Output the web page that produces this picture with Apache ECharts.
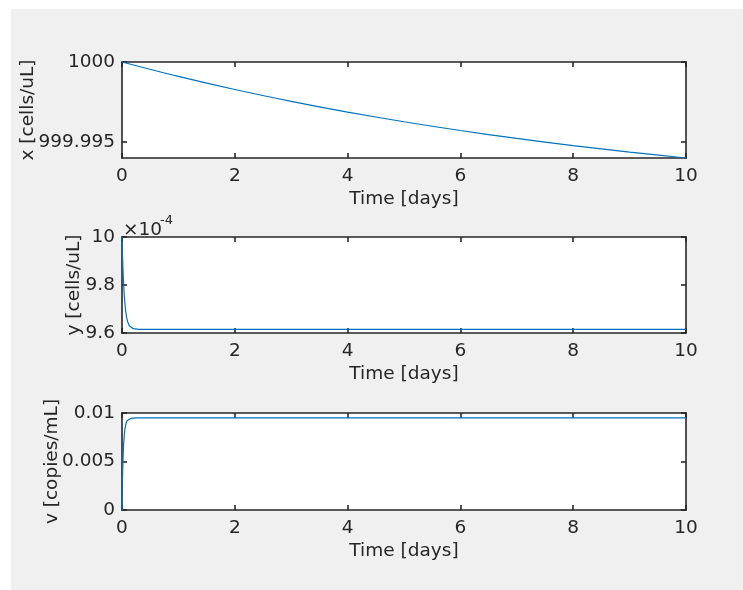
<!DOCTYPE html>
<html>
<head>
<meta charset="utf-8">
<script src="https://cdn.jsdelivr.net/npm/echarts@6/dist/echarts.min.js"></script>
<style>
html,body{margin:0;padding:0;background:#fff;}
#c{width:743px;height:590px;}
</style>
</head>
<body>
<div id="c"></div>
<script>
// ---- data ----
const timeTicks = [0, 2, 4, 6, 8, 10];

const tX = [0, 1, 2, 3, 4, 5, 6, 7, 8, 9, 10];
const xValues = [1000, 999.999094, 999.998274, 999.997533, 999.996861, 999.996254,
                 999.995705, 999.995208, 999.994758, 999.994351, 999.993982];
const xTicks = [999.995, 1000];

// y values in units of 1e-4 cells/uL
const tY = [0, 0.01, 0.02, 0.03, 0.04, 0.06, 0.08, 0.10, 0.13, 0.16, 0.2, 0.3, 1, 2, 3, 4, 5, 6, 7, 8, 9, 10];
const yValues = [10, 9.915, 9.849, 9.797, 9.757, 9.701, 9.667, 9.647, 9.630, 9.622, 9.618, 9.615,
                 9.615, 9.615, 9.615, 9.615, 9.615, 9.615, 9.615, 9.615, 9.615, 9.615];
const yTicks = [9.6, 9.8, 10];

const tV = [0, 0.005, 0.01, 0.02, 0.03, 0.04, 0.05, 0.07, 0.09, 0.12, 0.16, 0.25, 1, 2, 3, 4, 5, 6, 7, 8, 9, 10];
const vValues = [0, 0.0020, 0.0036, 0.0056, 0.0069, 0.0077, 0.0083, 0.0089, 0.0092, 0.00935, 0.00945, 0.0095,
                 0.0095, 0.0095, 0.0095, 0.0095, 0.0095, 0.0095, 0.0095, 0.0095, 0.0095, 0.0095];
const vTicks = [0, 0.005, 0.01];

const yNames = ['x [cells/uL]', 'y [cells/uL]', 'v [copies/mL]'];
const xName = 'Time [days]';

// ---- styling ----
const FONT = 'DejaVu Sans';
const FS = 18.5;
const INK = '#262626';
const LINE = '#0072BD';
const AXW = 1.6;

const grids = [
  {left: 122, right: 57, top: 62, height: 96},
  {left: 122, right: 57, top: 237, height: 96},
  {left: 122, right: 57, top: 413, height: 97}
];
const yRanges = [
  {min: 999.993982, max: 1000, ticks: xTicks, fmt: v => (v === 1000 ? '1000' : '999.995'), gap: 84},
  {min: 9.6, max: 10, ticks: yTicks, fmt: v => (Math.abs(v - 10) < 1e-9 ? '10' : v.toFixed(1)), gap: 38},
  {min: 0, max: 0.01, ticks: vTicks, fmt: v => (v === 0 ? '0' : (v === 0.01 ? '0.01' : '0.005')), gap: 60}
];
const seriesData = [
  tX.map((t, i) => [t, xValues[i]]),
  tY.map((t, i) => [t, yValues[i]]),
  tV.map((t, i) => [t, vValues[i]])
];

const xAxes = [], yAxes = [], series = [];
grids.forEach((g, i) => {
  g.show = true; g.backgroundColor = '#ffffff'; g.borderWidth = 0;
  const axLine = {show: true, onZero: false, lineStyle: {color: INK, width: AXW}};
  const tick = {show: true, inside: true, length: 5, lineStyle: {color: INK, width: AXW}};
  xAxes.push({
    type: 'value', gridIndex: i, position: 'bottom', min: 0, max: 10, interval: 2,
    axisLine: axLine, axisTick: tick, splitLine: {show: false},
    axisLabel: {color: INK, fontFamily: FONT, fontSize: FS, margin: 9},
    name: xName, nameLocation: 'middle', nameGap: 32, nameMoveOverlap: false,
    nameTextStyle: {color: INK, fontFamily: FONT, fontSize: FS}
  });
  xAxes.push({
    type: 'value', gridIndex: i, position: 'top', min: 0, max: 10, interval: 2,
    axisLine: axLine, axisTick: tick, splitLine: {show: false}, axisLabel: {show: false}
  });
  const r = yRanges[i];
  yAxes.push({
    type: 'value', gridIndex: i, position: 'left', min: r.min, max: r.max,
    axisLine: axLine,
    axisTick: Object.assign({}, tick, {customValues: r.ticks}),
    splitLine: {show: false},
    axisLabel: {color: INK, fontFamily: FONT, fontSize: FS, margin: 7, customValues: r.ticks, formatter: r.fmt},
    name: yNames[i], nameLocation: 'middle', nameGap: r.gap, nameRotate: 90, nameMoveOverlap: false,
    nameTextStyle: {color: INK, fontFamily: FONT, fontSize: FS}
  });
  yAxes.push({
    type: 'value', gridIndex: i, position: 'right', min: r.min, max: r.max,
    axisLine: axLine,
    axisTick: Object.assign({}, tick, {customValues: r.ticks}),
    splitLine: {show: false}, axisLabel: {show: false}
  });
  series.push({
    type: 'line', xAxisIndex: 2 * i, yAxisIndex: 2 * i, data: seriesData[i],
    showSymbol: false, smooth: i === 0 ? 0.3 : false,
    lineStyle: {color: LINE, width: 1.2}, z: 5
  });
});

const chart = echarts.init(document.getElementById('c'), null, {renderer: 'canvas'});
chart.setOption({
  animation: false,
  backgroundColor: '#ffffff',
  grid: grids,
  xAxis: xAxes,
  yAxis: yAxes,
  series: series,
  graphic: [
    {type: 'rect', z: -10, silent: true, shape: {x: 11, y: 9, width: 732, height: 581}, style: {fill: '#f0f0f0'}},
    {type: 'text', left: 123, top: 221, style: {text: '\u00d710', fill: INK, font: FS + 'px "' + FONT + '"'}},
    {type: 'text', left: 160, top: 214, style: {text: '-4', fill: INK, font: '13px "' + FONT + '"'}}
  ]
});
</script>
</body>
</html>
